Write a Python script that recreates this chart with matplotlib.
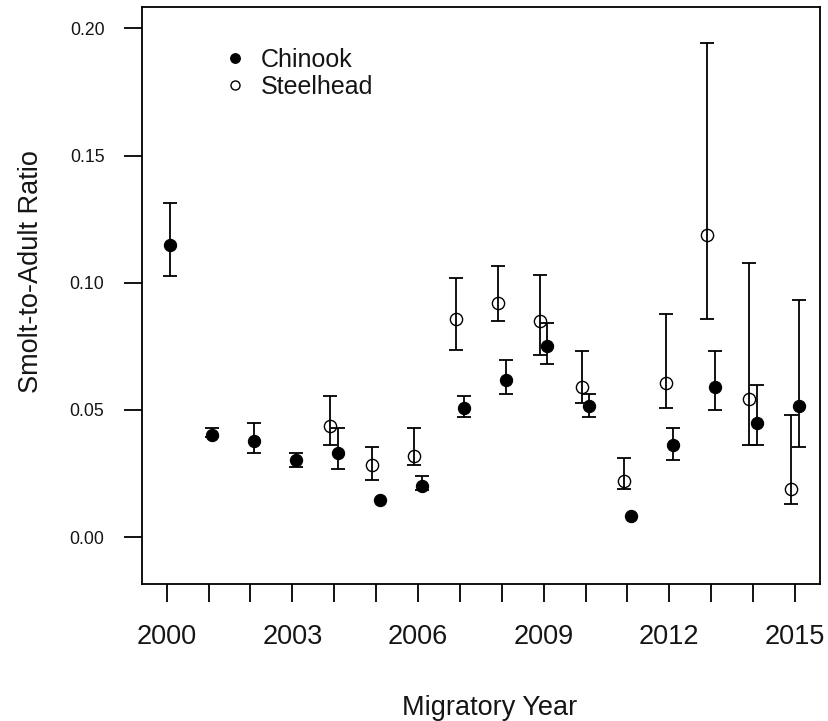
import matplotlib
matplotlib.use("Agg")
import matplotlib.pyplot as plt
from matplotlib.lines import Line2D
import numpy as np

plt.rcParams['font.family'] = ['Liberation Sans', 'DejaVu Sans']

# ---- data ----
chinook_years = [2000, 2001, 2002, 2003, 2004, 2005, 2006, 2007,
                 2008, 2009, 2010, 2011, 2012, 2013, 2014, 2015]
chinook_sar = [0.1150, 0.0400, 0.0380, 0.0302, 0.0332, 0.0148, 0.0203, 0.0507,
               0.0619, 0.0751, 0.0514, 0.0085, 0.0361, 0.0590, 0.0450, 0.0514]
chinook_lo = [0.1026, 0.0393, 0.0332, 0.0275, 0.0268, np.nan, 0.0184, 0.0472,
              0.0561, 0.0682, 0.0472, np.nan, 0.0304, 0.0501, 0.0361, 0.0354]
chinook_hi = [0.1312, 0.0430, 0.0450, 0.0330, 0.0430, np.nan, 0.0240, 0.0555,
              0.0695, 0.0842, 0.0561, np.nan, 0.0430, 0.0731, 0.0597, 0.0934]

steel_years = [2004, 2005, 2006, 2007, 2008, 2009, 2010, 2011, 2012, 2013, 2014, 2015]
steel_sar = [0.0437, 0.0285, 0.0319, 0.0856, 0.0921, 0.0850, 0.0590, 0.0219,
             0.0606, 0.1187, 0.0542, 0.0190]
steel_lo = [0.0361, 0.0226, 0.0282, 0.0737, 0.0850, 0.0718, 0.0527, 0.0190,
            0.0507, 0.0856, 0.0361, 0.0129]
steel_hi = [0.0555, 0.0354, 0.0430, 0.1017, 0.1066, 0.1032, 0.0731, 0.0311,
            0.0879, 0.1941, 0.1079, 0.0479]

x_ticks = list(range(2000, 2016))
x_tick_labels = [str(y) if (y - 2000) % 3 == 0 else "" for y in x_ticks]
y_ticks = [0.00, 0.05, 0.10, 0.15, 0.20]
y_tick_labels = ["0.00", "0.05", "0.10", "0.15", "0.20"]
series_names = ["Chinook", "Steelhead"]

# ---- style ----
W, H = 829, 721
DPI = 100
fig = plt.figure(figsize=(W / DPI, H / DPI), dpi=DPI)
L, R, T, B = 142, 820, 7, 584
ax = fig.add_axes([L / W, 1 - B / H, (R - L) / W, (B - T) / H])

offset = 0.09
lw = 1.3
txt = '#151515'

def draw(years, vals, lo, hi, dx, filled):
    x = np.array(years, float) + dx
    v = np.array(vals, float)
    lo = np.array(lo, float)
    hi = np.array(hi, float)
    err = np.vstack([v - lo, hi - v])
    ax.errorbar(x, v, yerr=err, fmt='none', ecolor='black', elinewidth=lw,
                capsize=4.7, capthick=lw, zorder=2)
    ax.plot(x, v, linestyle='none', marker='o', markersize=8.8,
            markerfacecolor='black' if filled else 'none',
            markeredgecolor='black', markeredgewidth=1.0 if not filled else 0.8,
            zorder=3)

draw(chinook_years, chinook_sar, chinook_lo, chinook_hi, offset, True)
draw(steel_years, steel_sar, steel_lo, steel_hi, -offset, False)

ax.set_xlim(1999.41, 2015.596)
ax.set_ylim(-0.0184, 0.2084)

ax.set_xticks(x_ticks)
ax.set_xticklabels(x_tick_labels, fontsize=19.5, color=txt)
ax.set_yticks(y_ticks)
ax.set_yticklabels(y_tick_labels, fontsize=12.7, color=txt)
ax.tick_params(axis='x', length=13, width=lw, pad=16, color='black')
ax.tick_params(axis='y', length=13, width=lw, pad=14, color='black')
for s in ax.spines.values():
    s.set_linewidth(lw)
    s.set_color('black')

fig.text(31 / W, 1 - 272 / H, "Smolt-to-Adult Ratio", rotation=90,
         ha='center', va='center', fontsize=19.5, color=txt)
fig.text(490 / W, 1 - 715 / H, "Migratory Year", ha='center', va='baseline',
         fontsize=19.5, color=txt)

handles = [
    Line2D([], [], linestyle='none', marker='o', markersize=6.8,
           markerfacecolor='black', markeredgecolor='black'),
    Line2D([], [], linestyle='none', marker='o', markersize=6.5,
           markerfacecolor='none', markeredgecolor='black', markeredgewidth=1.0),
]
leg = ax.legend(handles, series_names, loc='upper left',
                bbox_to_anchor=((223 - L) / (R - L), 1 - (48 - T) / (B - T)),
                frameon=False, fontsize=18, handlelength=1.0, handletextpad=0.5,
                borderpad=0, borderaxespad=0, labelspacing=0.1)
for t in leg.get_texts():
    t.set_color(txt)

fig.savefig("out.png", dpi=DPI)
